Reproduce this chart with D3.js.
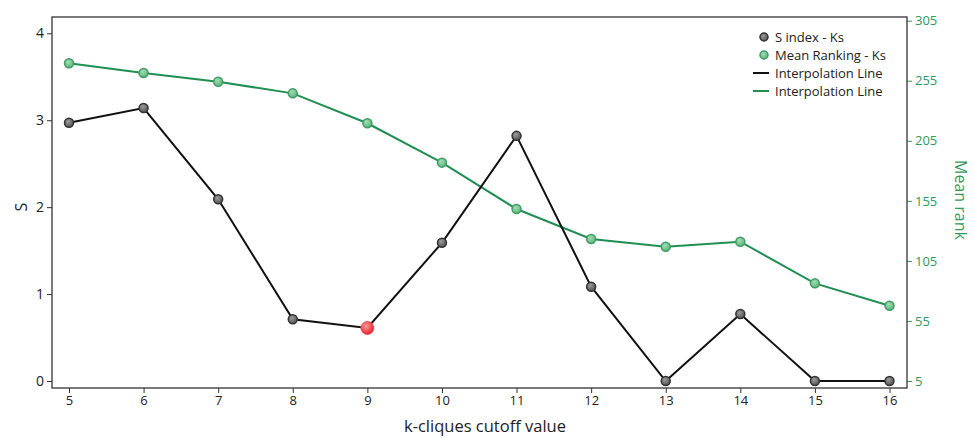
<!DOCTYPE html>
<html>
<head>
<meta charset="utf-8">
<script src="https://d3js.org/d3.v7.min.js"></script>
<style>
  body { margin: 0; background: #fff; }
  svg { display: block; font-family: "Open Sans", "Noto Sans", sans-serif; }
</style>
</head>
<body>
<svg width="974" height="439"></svg>
<script>
// data
const kValues = [5, 6, 7, 8, 9, 10, 11, 12, 13, 14, 15, 16];
const sIndex = [2.97, 3.14, 2.09, 0.71, 0.61, 1.59, 2.82, 1.085, 0, 0.77, 0, 0];
const meanRank = [269.5, 261.5, 254.2, 244.5, 219.6, 186.8, 148.2, 123.2, 116.8, 121, 86.3, 67.7];
const leftTicks = [0, 1, 2, 3, 4];
const rightTicks = [5, 55, 105, 155, 205, 255, 305];
const highlightK = 9;

const svg = d3.select("svg");
const frame = { left: 52, right: 907, top: 17, bottom: 388 };
const green = "#1f8f52";
const greenText = "#2f9a5c";

const x = d3.scaleLinear().domain([5, 16]).range([69, 889.5]);
const yL = d3.scaleLinear().domain([0, 4]).range([381, 33.3]);
const yR = d3.scaleLinear().domain([5, 305]).range([381, 20.7]);

// gradients for the markers
const defs = svg.append("defs");
function grad(id, inner, outer) {
    const g = defs.append("radialGradient").attr("id", id)
        .attr("cx", "40%").attr("cy", "35%").attr("r", "65%");
    g.append("stop").attr("offset", "0%").attr("stop-color", inner);
    g.append("stop").attr("offset", "100%").attr("stop-color", outer);
}
grad("gGray", "#9a9a9a", "#555");
grad("gGreen", "#a6dcb7", "#5cb47c");
grad("gRed", "#ff9a9a", "#e8202a");

// axes
const axL = svg.append("g").attr("transform", `translate(${frame.left},0)`)
    .call(d3.axisLeft(yL).tickValues(leftTicks).tickSize(5).tickPadding(3).tickFormat(d3.format("d")));
axL.select(".domain").remove();
axL.selectAll("line").attr("stroke", "#333");
axL.selectAll("text").attr("font-size", 14).attr("fill", "#222")
    .attr("font-family", "'Open Sans', sans-serif");

const axR = svg.append("g").attr("transform", `translate(${frame.right},0)`)
    .call(d3.axisRight(yR).tickValues(rightTicks).tickSize(5).tickPadding(3));
axR.select(".domain").remove();
axR.selectAll("line").attr("stroke", greenText);
axR.selectAll("text").attr("font-size", 13).attr("fill", greenText)
    .attr("font-family", "'Open Sans', sans-serif");

const axB = svg.append("g").attr("transform", `translate(0,${frame.bottom})`)
    .call(d3.axisBottom(x).tickValues(kValues).tickSize(5).tickPadding(3).tickFormat(d3.format("d")));
axB.select(".domain").remove();
axB.selectAll("line").attr("stroke", "#333");
axB.selectAll("text").attr("font-size", 13).attr("fill", "#222")
    .attr("font-family", "'Open Sans', sans-serif");

// frame
svg.append("rect")
    .attr("x", frame.left).attr("y", frame.top)
    .attr("width", frame.right - frame.left).attr("height", frame.bottom - frame.top)
    .attr("fill", "none").attr("stroke", "#333").attr("stroke-width", 1.3);

// axis titles
svg.append("text").attr("transform", "translate(27,207) rotate(-90)")
    .attr("text-anchor", "middle").attr("font-size", 16).attr("fill", "#222").text("S");
svg.append("text").attr("transform", "translate(955,200) rotate(90)")
    .attr("text-anchor", "middle").attr("font-size", 16).attr("fill", greenText).text("Mean rank");
svg.append("text").attr("x", 485).attr("y", 432)
    .attr("text-anchor", "middle").attr("font-size", 16.5).attr("fill", "#222")
    .text("k-cliques cutoff value");

// lines
const lineS = d3.line().x((d, i) => x(kValues[i])).y(d => yL(d));
const lineR = d3.line().x((d, i) => x(kValues[i])).y(d => yR(d));
svg.append("path").datum(meanRank).attr("d", lineR)
    .attr("fill", "none").attr("stroke", green).attr("stroke-width", 2);
svg.append("path").datum(sIndex).attr("d", lineS)
    .attr("fill", "none").attr("stroke", "#111").attr("stroke-width", 2);

// markers
svg.append("g").selectAll("circle").data(meanRank).join("circle")
    .attr("cx", (d, i) => x(kValues[i])).attr("cy", d => yR(d)).attr("r", 4.5)
    .attr("fill", "url(#gGreen)").attr("stroke", "#3f9e64").attr("stroke-width", 1.5);
svg.append("g").selectAll("circle").data(sIndex).join("circle")
    .attr("cx", (d, i) => x(kValues[i])).attr("cy", d => yL(d))
    .attr("r", (d, i) => kValues[i] === highlightK ? 6.5 : 4.5)
    .attr("fill", (d, i) => kValues[i] === highlightK ? "url(#gRed)" : "url(#gGray)")
    .attr("stroke", (d, i) => kValues[i] === highlightK ? "#f04048" : "#333")
    .attr("stroke-width", (d, i) => kValues[i] === highlightK ? 0.8 : 1.5);

// legend
const legendItems = [
    { label: "S index - Ks", type: "dot", fill: "url(#gGray)", stroke: "#333" },
    { label: "Mean Ranking - Ks", type: "dot", fill: "url(#gGreen)", stroke: "#3f9e64" },
    { label: "Interpolation Line", type: "line", stroke: "#111" },
    { label: "Interpolation Line", type: "line", stroke: green }
];
const lg = svg.append("g");
legendItems.forEach((d, i) => {
    const yy = 37 + i * 18;
    if (d.type === "dot") {
        lg.append("circle").attr("cx", 764).attr("cy", yy).attr("r", 4)
            .attr("fill", d.fill).attr("stroke", d.stroke).attr("stroke-width", 1.5);
    } else {
        lg.append("line").attr("x1", 753).attr("x2", 769).attr("y1", yy).attr("y2", yy)
            .attr("stroke", d.stroke).attr("stroke-width", 2);
    }
    lg.append("text").attr("x", 775).attr("y", yy).attr("dy", "0.35em")
        .attr("font-size", 13).attr("fill", "#222").text(d.label);
});
</script>
</body>
</html>
